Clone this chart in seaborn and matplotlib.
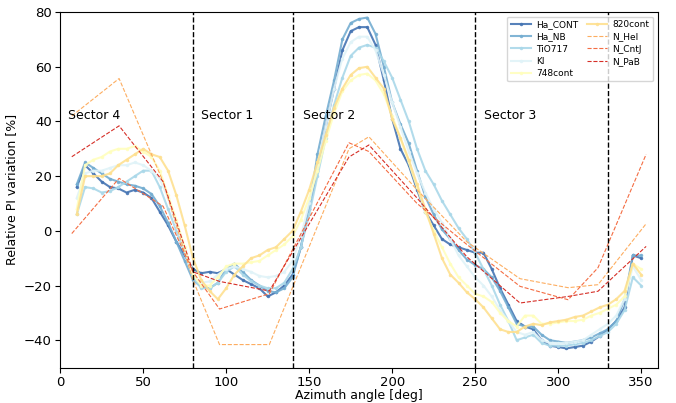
import numpy as np
import pandas as pd
import matplotlib
matplotlib.use("Agg")
import matplotlib.pyplot as plt
import seaborn as sns

# azimuth grid of the filter curves
angle = [10, 15, 20, 25, 30, 35, 40, 45, 50, 55, 60, 65, 70, 75, 80, 85, 90, 95,
         100, 105, 110, 115, 120, 125, 130, 135, 140, 145, 150, 155, 160, 165, 170,
         175, 180, 185, 190, 195, 200, 205, 210, 215, 220, 225, 230, 235, 240, 245,
         250, 255, 260, 265, 270, 275, 280, 285, 290, 295, 300, 305, 310, 315, 320,
         325, 330, 335, 340, 345, 350]

ha_cont = [16, 24, 21, 18, 16, 15.5, 14, 15, 14, 12, 7, 2, -4, -9, -14, -15.5, -15, -15.5,
           -14, -16, -18, -19.5, -21, -24, -22.5, -20, -16, -6, 8, 22, 38, 52, 66,
           73, 74.5, 74.5, 68, 55, 41, 30, 24, 15, 7, 2, -3, -5, -6, -7,
           -8, -8, -14, -21, -27, -33, -35, -36, -40, -42, -42.5, -43, -42.5, -42, -40.5,
           -38.5, -36, -33, -28, -9, -10]
ha_nb = [17, 25, 23, 21, 19, 18, 17, 16.5, 15.5, 13.5, 9, 3, -4, -11, -18, -20.5, -21, -19,
         -14, -12, -15, -18, -20, -22, -22.5, -21, -17, -6, 8, 28, 42, 55, 70,
         76, 77.5, 78, 72, 60, 47, 39, 32, 22, 12.5, 6, 0.5, -3, -7, -10.5,
         -12.5, -14, -17, -22, -28, -34, -35, -35, -38, -40, -40.5, -41, -40.5, -40, -39,
         -37.5, -36, -33, -25, -9, -9]
tio717 = [6, 16, 15.5, 14, 14.5, 16, 18, 20, 22, 22, 16, 8, 0, -8, -17, -21, -21, -19,
          -15, -13, -16, -18.5, -20, -21, -21, -19, -14, -6, 6, 20, 34, 46, 56,
          64, 67, 68, 67, 62, 56, 48, 40, 30, 22, 17, 11, 6, 1, -3,
          -8, -14, -20, -27, -33, -40, -39, -38, -41, -42, -42, -42, -41.5, -41, -40,
          -38.5, -37, -34, -29, -17, -20]
ki = [12, 21, 22, 22, 23, 24, 24, 25, 24, 22, 19, 12, 2, -7, -16, -19, -18.5, -16,
      -14, -13, -14, -15, -16.5, -17, -16.5, -15, -11, -2, 10, 24, 38, 52, 63,
      69, 71, 71, 66, 57, 47, 38, 29, 21, 14, 8, 3, -3, -9, -13,
      -17, -20, -24, -29, -33, -37, -38, -37, -40, -41, -41, -41, -40.5, -40, -38,
      -36, -34, -31, -25, -13, -18]
c748 = [8, 24, 26, 27, 29, 30, 30, 31, 29, 27, 22, 13, 4, -6, -16, -20, -20, -17,
        -13, -12, -12, -11.5, -11, -9, -7, -5, -2, 4, 12, 22, 33, 43, 51,
        55, 57, 57.5, 55, 50, 42, 34, 25, 16, 7, 0, -6, -12, -17, -20,
        -23, -24, -26, -30, -33, -35, -31, -31, -34, -34, -33.5, -33, -33, -32.5, -31,
        -30, -28.5, -27, -24, -12, -14]
c820 = [6, 20, 20, 20, 21, 24, 26, 28, 30, 28, 27, 22, 13, 2, -10, -18, -22, -25,
        -21, -16, -13, -10, -9, -7, -6, -3, 0, 7, 15, 25, 35, 45, 52,
        57, 59.5, 60, 56, 52, 41, 34, 26, 17, 8, -1, -10, -16, -19, -22.5,
        -25, -28, -32, -36, -37, -37, -35, -34, -34.5, -33.5, -33, -32.5, -31.5, -31, -29.5,
        -28, -27, -25, -22, -12, -16]

# sparse observation angles of the N-band estimates
angle_n = [7, 35.5, 62, 80, 96, 126, 174, 186, 215, 245, 277, 306, 324, 353]
n_hei = [42, 55.7, 18, -18, -41.6, -41.6, 30, 34.4, 15, -4, -17.5, -20.8, -19.7, 2.6]
n_cntj = [-1, 19.2, 9, -15, -28.6, -23, 32.2, 29, 10, -5, -20.3, -25.2, -13.5, 28]
n_pab = [27.1, 38.4, 18, -15, -18.5, -22, 27, 31.4, 12, -9.5, -26.4, -24, -22.1, -5.7]

solid = {"Ha_CONT": ha_cont, "Ha_NB": ha_nb, "TiO717": tio717, "KI": ki,
         "748cont": c748, "820cont": c820}
dashed = {"N_HeI": n_hei, "N_CntJ": n_cntj, "N_PaB": n_pab}

sectors = [80, 140, 250, 330]
sector_names = ["Sector 4", "Sector 1", "Sector 2", "Sector 3"]
sector_x = [5, 85, 146, 255.5]

pal = sns.color_palette("RdYlBu_r", 9)

fig, ax = plt.subplots(figsize=(6.76, 4.03), dpi=100)

for k, (name, vals) in enumerate(solid.items()):
    sns.lineplot(x=angle, y=vals, ax=ax, color=pal[k], label=name, marker="o",
                 markersize=2.5, markeredgewidth=0, linewidth=1.5, alpha=0.9)

for k, (name, vals) in enumerate(dashed.items()):
    sns.lineplot(x=angle_n, y=vals, ax=ax, color=pal[6 + k], label=name,
                 linestyle="--", linewidth=0.8)

for s in sectors:
    ax.axvline(s, color="black", linestyle="--", linewidth=1)
for name, sx in zip(sector_names, sector_x):
    ax.text(sx, 42, name, fontsize=9, va="center")

ax.set_xlim(0, 360)
ax.set_ylim(-50, 80)
ax.set_xlabel("Azimuth angle [deg]", fontsize=9, labelpad=0)
ax.set_ylabel("Relative PI variation [%]", fontsize=9)
ax.tick_params(labelsize=9.5, pad=2.5)
ax.legend(loc="upper right", ncol=2, fontsize=6.5, handlelength=2.2,
          columnspacing=1.0, labelspacing=0.35, handletextpad=0.6)

plt.subplots_adjust(left=0.089, right=0.973, top=0.97, bottom=0.088)
plt.savefig("out.png", dpi=100)
